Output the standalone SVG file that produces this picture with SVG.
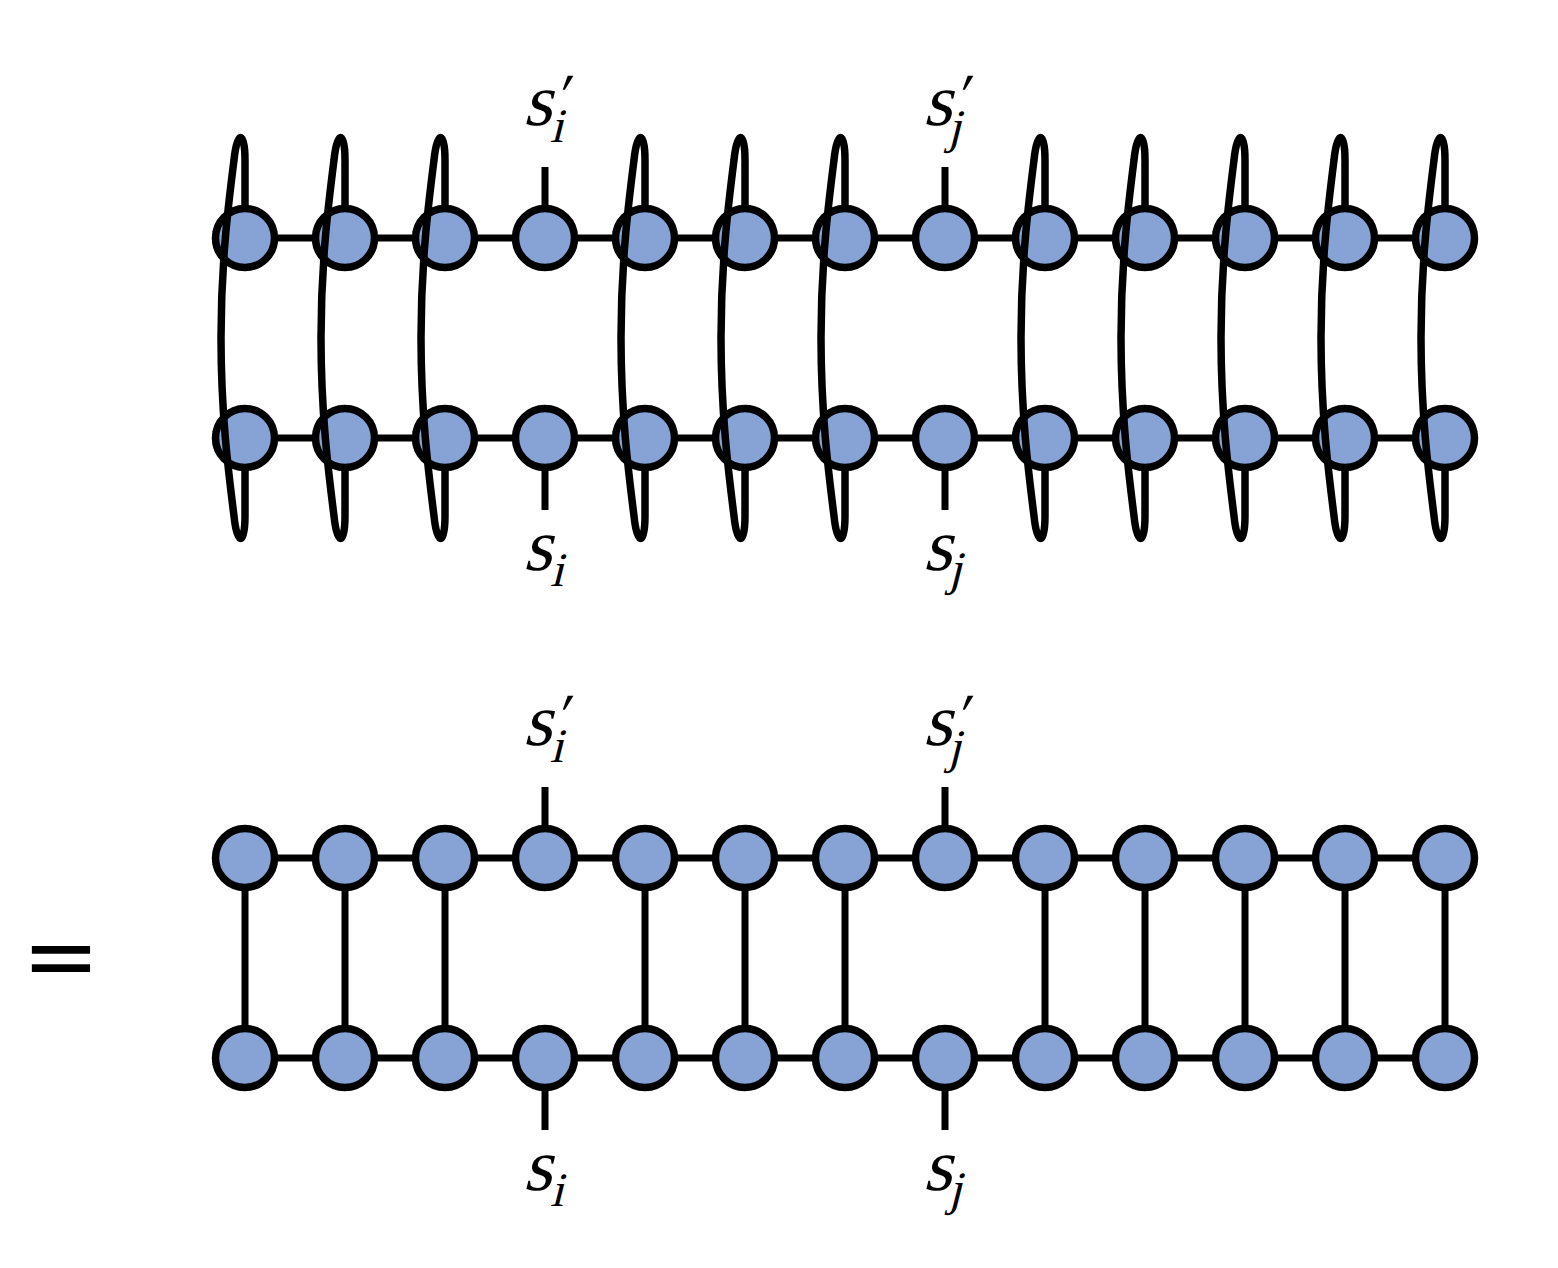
<svg xmlns="http://www.w3.org/2000/svg" width="1558" height="1268" viewBox="0 0 1558 1268">
<defs>
<style>
.ln{stroke:#000;stroke-width:7;fill:none}
.lp{stroke:#000;stroke-width:7.5;fill:none;stroke-linecap:round}
.nd{fill:#87A2D4;stroke:#000;stroke-width:7.5}
.lb{font-family:"Liberation Serif","Times New Roman",serif;fill:#000}
.s{font-size:74px}
.sub{font-size:48px}
.pr{font-size:60px}
</style>
<path id="loop" d="M 0 -30 L 0 -78 C 0 -108 -8 -108 -11 -78 C -16 -38 -24 22 -24 100 C -24 178 -16 238 -11 278 C -8 308 0 308 0 278 L 0 230"/>
<circle id="n" r="29.5"/>
</defs>
<g id="connectors">
<g id="top-chain">
<path class="ln" d="M245 238 H1445 M245 438 H1445"/>
<path class="ln" d="M545 238 V167 M945 238 V167 M545 438 V510 M945 438 V510"/>
</g>
<g id="bottom-chain">
<path class="ln" d="M245 858 H1445 M245 1058 H1445"/>
<path class="ln" d="M545 858 V787 M945 858 V787 M545 1058 V1130 M945 1058 V1130"/>
<path class="ln" d="M245 858 V1058 M345 858 V1058 M445 858 V1058 M645 858 V1058 M745 858 V1058 M845 858 V1058 M1045 858 V1058 M1145 858 V1058 M1245 858 V1058 M1345 858 V1058 M1445 858 V1058"/>
</g>
</g>
<g id="nodes-top">
<g id="t1"><use href="#n" class="nd" x="245" y="238"/><use href="#n" class="nd" x="245" y="438"/></g>
<g id="t2"><use href="#n" class="nd" x="345" y="238"/><use href="#n" class="nd" x="345" y="438"/></g>
<g id="t3"><use href="#n" class="nd" x="445" y="238"/><use href="#n" class="nd" x="445" y="438"/></g>
<g id="t4"><use href="#n" class="nd" x="545" y="238"/><use href="#n" class="nd" x="545" y="438"/></g>
<g id="t5"><use href="#n" class="nd" x="645" y="238"/><use href="#n" class="nd" x="645" y="438"/></g>
<g id="t6"><use href="#n" class="nd" x="745" y="238"/><use href="#n" class="nd" x="745" y="438"/></g>
<g id="t7"><use href="#n" class="nd" x="845" y="238"/><use href="#n" class="nd" x="845" y="438"/></g>
<g id="t8"><use href="#n" class="nd" x="945" y="238"/><use href="#n" class="nd" x="945" y="438"/></g>
<g id="t9"><use href="#n" class="nd" x="1045" y="238"/><use href="#n" class="nd" x="1045" y="438"/></g>
<g id="t10"><use href="#n" class="nd" x="1145" y="238"/><use href="#n" class="nd" x="1145" y="438"/></g>
<g id="t11"><use href="#n" class="nd" x="1245" y="238"/><use href="#n" class="nd" x="1245" y="438"/></g>
<g id="t12"><use href="#n" class="nd" x="1345" y="238"/><use href="#n" class="nd" x="1345" y="438"/></g>
<g id="t13"><use href="#n" class="nd" x="1445" y="238"/><use href="#n" class="nd" x="1445" y="438"/></g>
</g>
<g id="loops">
<use href="#loop" class="lp" x="245" y="238"/>
<use href="#loop" class="lp" x="345" y="238"/>
<use href="#loop" class="lp" x="445" y="238"/>
<use href="#loop" class="lp" x="645" y="238"/>
<use href="#loop" class="lp" x="745" y="238"/>
<use href="#loop" class="lp" x="845" y="238"/>
<use href="#loop" class="lp" x="1045" y="238"/>
<use href="#loop" class="lp" x="1145" y="238"/>
<use href="#loop" class="lp" x="1245" y="238"/>
<use href="#loop" class="lp" x="1345" y="238"/>
<use href="#loop" class="lp" x="1445" y="238"/>
</g>
<g id="nodes-bottom">
<g id="b1"><use href="#n" class="nd" x="245" y="858"/><use href="#n" class="nd" x="245" y="1058"/></g>
<g id="b2"><use href="#n" class="nd" x="345" y="858"/><use href="#n" class="nd" x="345" y="1058"/></g>
<g id="b3"><use href="#n" class="nd" x="445" y="858"/><use href="#n" class="nd" x="445" y="1058"/></g>
<g id="b4"><use href="#n" class="nd" x="545" y="858"/><use href="#n" class="nd" x="545" y="1058"/></g>
<g id="b5"><use href="#n" class="nd" x="645" y="858"/><use href="#n" class="nd" x="645" y="1058"/></g>
<g id="b6"><use href="#n" class="nd" x="745" y="858"/><use href="#n" class="nd" x="745" y="1058"/></g>
<g id="b7"><use href="#n" class="nd" x="845" y="858"/><use href="#n" class="nd" x="845" y="1058"/></g>
<g id="b8"><use href="#n" class="nd" x="945" y="858"/><use href="#n" class="nd" x="945" y="1058"/></g>
<g id="b9"><use href="#n" class="nd" x="1045" y="858"/><use href="#n" class="nd" x="1045" y="1058"/></g>
<g id="b10"><use href="#n" class="nd" x="1145" y="858"/><use href="#n" class="nd" x="1145" y="1058"/></g>
<g id="b11"><use href="#n" class="nd" x="1245" y="858"/><use href="#n" class="nd" x="1245" y="1058"/></g>
<g id="b12"><use href="#n" class="nd" x="1345" y="858"/><use href="#n" class="nd" x="1345" y="1058"/></g>
<g id="b13"><use href="#n" class="nd" x="1445" y="858"/><use href="#n" class="nd" x="1445" y="1058"/></g>
</g>
<g id="labels" class="lb">
<g transform="translate(523 125) skewX(-14)"><text class="s" x="0" y="0">s</text><text class="sub" x="31" y="17">i</text><text class="pr" x="28" y="-10">′</text></g>
<g transform="translate(923 125) skewX(-14)"><text class="s" x="0" y="0">s</text><text class="sub" x="29" y="18">j</text><text class="pr" x="28" y="-10">′</text></g>
<g transform="translate(523 570) skewX(-14)"><text class="s" x="0" y="0">s</text><text class="sub" x="31" y="16">i</text></g>
<g transform="translate(923 570) skewX(-14)"><text class="s" x="0" y="0">s</text><text class="sub" x="29" y="15">j</text></g>
<g transform="translate(523 745) skewX(-14)"><text class="s" x="0" y="0">s</text><text class="sub" x="31" y="17">i</text><text class="pr" x="28" y="-10">′</text></g>
<g transform="translate(923 745) skewX(-14)"><text class="s" x="0" y="0">s</text><text class="sub" x="29" y="18">j</text><text class="pr" x="28" y="-10">′</text></g>
<g transform="translate(523 1190) skewX(-14)"><text class="s" x="0" y="0">s</text><text class="sub" x="31" y="16">i</text></g>
<g transform="translate(923 1190) skewX(-14)"><text class="s" x="0" y="0">s</text><text class="sub" x="29" y="15">j</text></g>
<text x="22" y="988" font-family="DejaVu Sans" font-size="93">=</text>
</g>
</svg>
